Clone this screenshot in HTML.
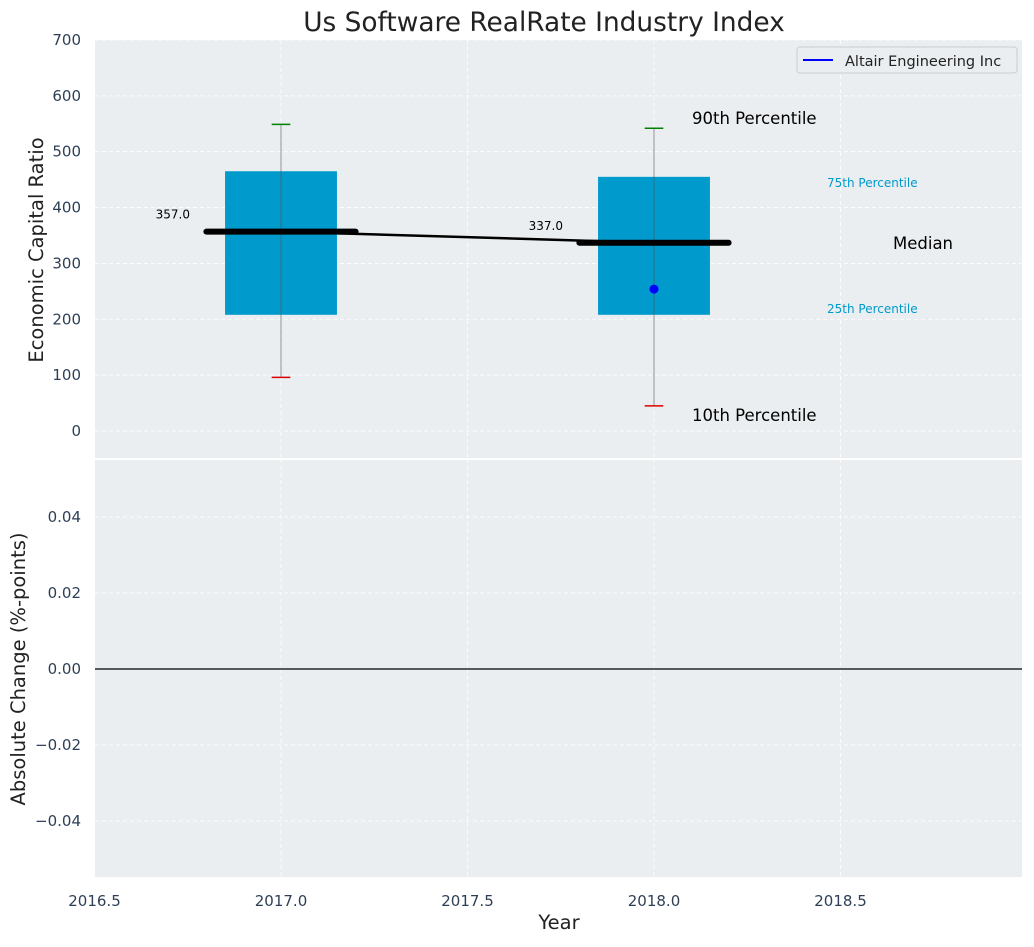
<!DOCTYPE html>
<html><head><meta charset="utf-8">
<style>
html,body{margin:0;padding:0;background:#fff;}
svg text{font-family:"DejaVu Sans","Liberation Sans",sans-serif;}
</style></head>
<body>
<svg id="chart" width="1034" height="942" xmlns="http://www.w3.org/2000/svg"></svg>
<script>
const years = [2017, 2018];
const p10 = [96, 45];
const p25 = [208, 208];
const p50 = [357, 337];
const p75 = [465, 455];
const p90 = [549, 542];
const companyYears = [2018];
const companyVals = [254];
const topTicks = [0,100,200,300,400,500,600,700];
const botTicks = [-0.04,-0.02,0,0.02,0.04];
const xTicks = [2016.5,2017,2017.5,2018,2018.5];

const NS="http://www.w3.org/2000/svg";
const svg=document.getElementById('chart');
const L=95,R=1022,T1=40,B1=459,T2=459,B2=877;
const x=v=>281+(v-2017)*373;
const y1=v=>431-v*0.5586;
const y2=v=>669-v*3800;
function el(tag,attrs,name,parent){const e=document.createElementNS(NS,tag);for(const k in attrs)e.setAttribute(k,attrs[k]);


(parent||svg).appendChild(e);return e;}
function txt(s,attrs,name){const e=el('text',attrs,name);e.textContent=s;return e;}

el('rect',{x:L,y:T1,width:R-L,height:B1-T1,fill:'#eaeef0'},'top-plot-area');
el('rect',{x:L,y:T2,width:R-L,height:B2-T2,fill:'#eaeef0'},'bottom-plot-area');
el('line',{x1:L,x2:R,y1:459,y2:459,stroke:'#fff','stroke-width':2},'panel-divider');
topTicks.forEach(t=>{el('line',{x1:L,x2:R,y1:y1(t),y2:y1(t),stroke:'#fff','stroke-dasharray':'4,3','stroke-width':0.8},'top-grid-line');
 txt(String(t),{x:81,y:y1(t)+5,'text-anchor':'end','font-size':15,fill:'#2e3f55'},'top-y-tick-label');});
botTicks.forEach(t=>{el('line',{x1:L,x2:R,y1:y2(t),y2:y2(t),stroke:'#fff','stroke-dasharray':'4,3','stroke-width':0.8},'bottom-grid-line');
 txt((t<0?'\u2212':'')+Math.abs(t).toFixed(2),{x:81,y:y2(t)+5,'text-anchor':'end','font-size':15,fill:'#2e3f55'},'bottom-y-tick-label');});
xTicks.forEach(t=>{el('line',{x1:x(t),x2:x(t),y1:T1,y2:B1,stroke:'#fff','stroke-dasharray':'4,3','stroke-width':0.8},'top-x-grid-line');
 el('line',{x1:x(t),x2:x(t),y1:T2,y2:B2,stroke:'#fff','stroke-dasharray':'4,3','stroke-width':0.8},'bottom-x-grid-line');
 txt(t.toFixed(1),{x:x(t),y:906,'text-anchor':'middle','font-size':15,fill:'#2e3f55'},'x-tick-label');});
el('line',{x1:L,x2:R,y1:y2(0),y2:y2(0),stroke:'#000','stroke-width':1.2},'zero-line');

years.forEach((yr,i)=>{
 el('rect',{x:x(yr-0.15),y:y1(p75[i]),width:x(yr+0.15)-x(yr-0.15),height:y1(p25[i])-y1(p75[i]),fill:'#009acd'},'iqr-box-'+yr);
 el('line',{x1:x(yr),x2:x(yr),y1:y1(p90[i]),y2:y1(p10[i]),stroke:'#555','stroke-width':1,opacity:0.6},'whisker-'+yr);
 el('line',{x1:x(yr-0.025),x2:x(yr+0.025),y1:y1(p90[i]),y2:y1(p90[i]),stroke:'green','stroke-width':1.5},'p90-cap-'+yr);
 el('line',{x1:x(yr-0.025),x2:x(yr+0.025),y1:y1(p10[i]),y2:y1(p10[i]),stroke:'#d00','stroke-width':1.5},'p10-cap-'+yr);
 el('line',{x1:x(yr-0.2),x2:x(yr+0.2),y1:y1(p50[i]),y2:y1(p50[i]),stroke:'#000','stroke-width':6,'stroke-linecap':'round'},'median-bar-'+yr);
 txt(p50[i].toFixed(1),{x:x(yr-0.29),y:y1(p50[i])-13,'text-anchor':'middle','font-size':12,fill:'#000'},'median-value-label');
});
el('polyline',{points:years.map((yr,i)=>x(yr)+','+y1(p50[i])).join(' '),fill:'none',stroke:'#000','stroke-width':2.5},'median-trend-line');
companyYears.forEach((yr,i)=>el('circle',{cx:x(yr),cy:y1(companyVals[i]),r:4.5,fill:'#0000ff'},'company-point'));

const last=years.length-1;
txt('90th Percentile',{x:692,y:y1(p90[last])-4,'font-size':16.5,fill:'#000'},'p90-annotation');
txt('75th Percentile',{x:827,y:y1(p75[last])+10,'font-size':12,fill:'#009acd'},'p75-annotation');
txt('Median',{x:893,y:y1(p50[last])+6,'font-size':16.5,fill:'#000'},'median-annotation');
txt('25th Percentile',{x:827,y:y1(p25[last])-2,'font-size':12,fill:'#009acd'},'p25-annotation');
txt('10th Percentile',{x:692,y:y1(p10[last])+15,'font-size':16.5,fill:'#000'},'p10-annotation');

txt('Us Software RealRate Industry Index',{x:544,y:31,'text-anchor':'middle','font-size':26.4,fill:'#222'},'chart-title');
txt('Economic Capital Ratio',{x:0,y:0,transform:'translate(43,250) rotate(-90)','text-anchor':'middle','font-size':19.5,fill:'#222'},'top-y-axis-title');
txt('Absolute Change (%-points)',{x:0,y:0,transform:'translate(25,669) rotate(-90)','text-anchor':'middle','font-size':19.5,fill:'#222'},'bottom-y-axis-title');
txt('Year',{x:559,y:929,'text-anchor':'middle','font-size':19.5,fill:'#222'},'x-axis-title');

const lg=el('g',{},'legend');
el('rect',{x:797,y:47,width:220,height:26,rx:3,fill:'#eaeef0',stroke:'#ccc'},'legend-box',lg);
el('line',{x1:803,x2:833,y1:60,y2:60,stroke:'#0000ff','stroke-width':2},'legend-swatch',lg);
const lt=el('text',{x:845,y:66,'font-size':14.5,fill:'#222'},'legend-label',lg);lt.textContent='Altair Engineering Inc';
</script>
</body></html>
